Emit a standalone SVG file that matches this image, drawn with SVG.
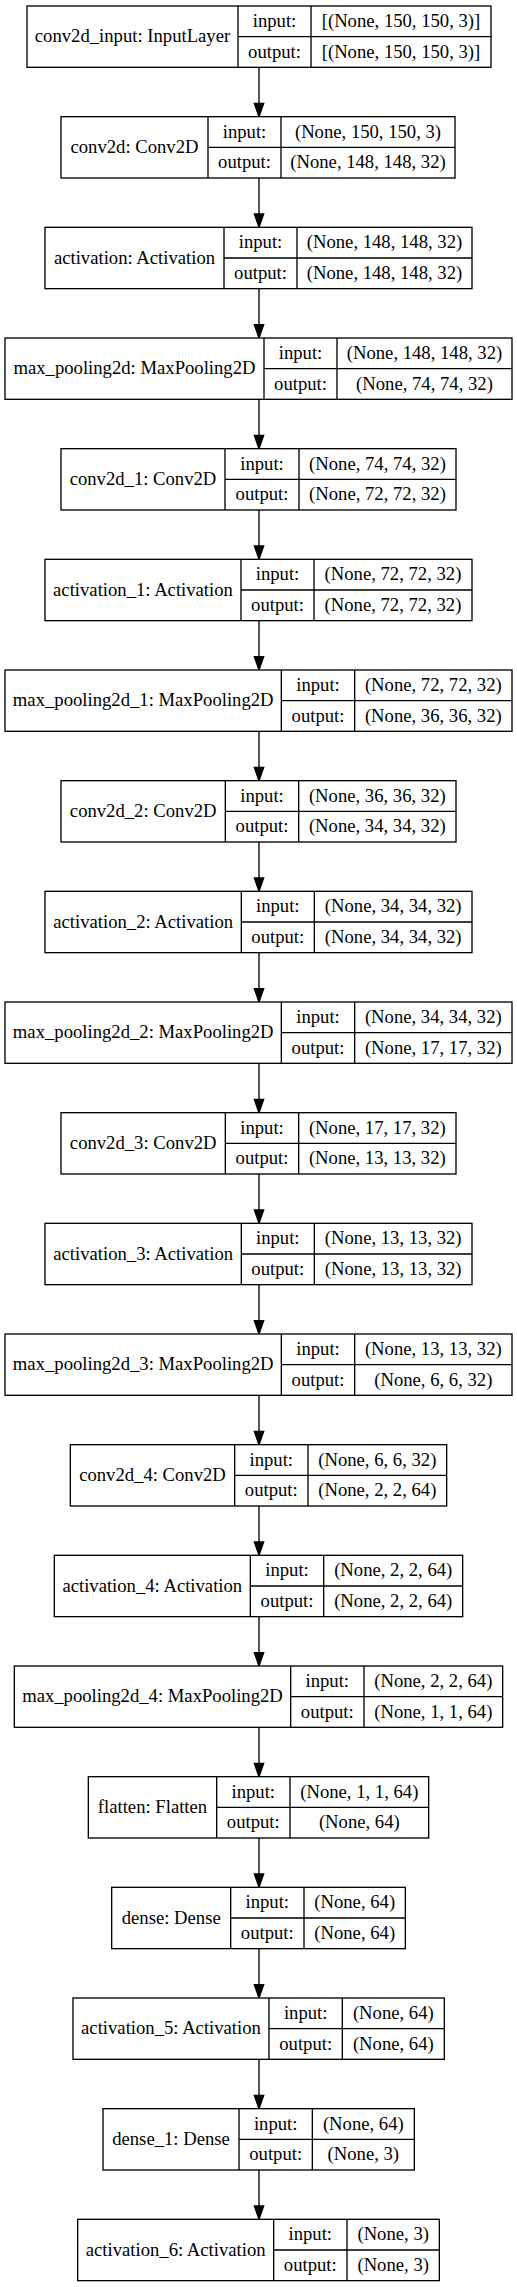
<svg xmlns="http://www.w3.org/2000/svg" width="517" height="2287" viewBox="0 0 517 2287">
<style>
  .box{fill:#ffffff;stroke:#000000;stroke-width:1.33}
  .ln{stroke:#000000;stroke-width:1.33;fill:none}
  text{font-family:"Liberation Serif","Times New Roman",serif;font-size:18.67px;fill:#000000;text-anchor:middle}
  .edge{stroke:#000000;stroke-width:1.33;fill:none}
  .head{fill:#000000;stroke:#000000;stroke-width:1.33}
</style>
<rect x="0" y="0" width="517" height="2287" fill="#ffffff"/>

<g id="connectors">
  <path class="edge" d="M259,67.33 V103.33"/><polygon class="head" points="259,116.67 254.33,103.33 263.67,103.33"/>
  <path class="edge" d="M259,178 V214"/><polygon class="head" points="259,227.33 254.33,214 263.67,214"/>
  <path class="edge" d="M259,288.67 V324.67"/><polygon class="head" points="259,338 254.33,324.67 263.67,324.67"/>
  <path class="edge" d="M259,399.33 V435.33"/><polygon class="head" points="259,448.67 254.33,435.33 263.67,435.33"/>
  <path class="edge" d="M259,510 V546"/><polygon class="head" points="259,559.33 254.33,546 263.67,546"/>
  <path class="edge" d="M259,620.67 V656.67"/><polygon class="head" points="259,670 254.33,656.67 263.67,656.67"/>
  <path class="edge" d="M259,731.33 V767.33"/><polygon class="head" points="259,780.67 254.33,767.33 263.67,767.33"/>
  <path class="edge" d="M259,842 V878"/><polygon class="head" points="259,891.33 254.33,878 263.67,878"/>
  <path class="edge" d="M259,952.67 V988.67"/><polygon class="head" points="259,1002 254.33,988.67 263.67,988.67"/>
  <path class="edge" d="M259,1063.33 V1099.33"/><polygon class="head" points="259,1112.67 254.33,1099.33 263.67,1099.33"/>
  <path class="edge" d="M259,1174 V1210"/><polygon class="head" points="259,1223.33 254.33,1210 263.67,1210"/>
  <path class="edge" d="M259,1284.67 V1320.67"/><polygon class="head" points="259,1334 254.33,1320.67 263.67,1320.67"/>
  <path class="edge" d="M259,1395.33 V1431.33"/><polygon class="head" points="259,1444.67 254.33,1431.33 263.67,1431.33"/>
  <path class="edge" d="M259,1506 V1542"/><polygon class="head" points="259,1555.33 254.33,1542 263.67,1542"/>
  <path class="edge" d="M259,1616.67 V1652.67"/><polygon class="head" points="259,1666 254.33,1652.67 263.67,1652.67"/>
  <path class="edge" d="M259,1727.33 V1763.33"/><polygon class="head" points="259,1776.67 254.33,1763.33 263.67,1763.33"/>
  <path class="edge" d="M259,1838 V1874"/><polygon class="head" points="259,1887.33 254.33,1874 263.67,1874"/>
  <path class="edge" d="M259,1948.67 V1984.67"/><polygon class="head" points="259,1998 254.33,1984.67 263.67,1984.67"/>
  <path class="edge" d="M259,2059.33 V2095.33"/><polygon class="head" points="259,2108.67 254.33,2095.33 263.67,2095.33"/>
  <path class="edge" d="M259,2170 V2206"/><polygon class="head" points="259,2219.33 254.33,2206 263.67,2206"/>
</g>

<g id="conv2d_input">
  <rect class="box" x="27" y="6" width="464" height="61.33"/>
  <path class="ln" d="M238,6 V67.33 M311,6 V67.33 M238,36.67 H491"/>
  <text x="132.5" y="42.2">conv2d_input: InputLayer</text>
  <text x="274.5" y="27">input:</text><text x="401" y="27">[(None, 150, 150, 3)]</text>
  <text x="274.5" y="57.6">output:</text><text x="401" y="57.6">[(None, 150, 150, 3)]</text>
</g>

<g id="conv2d">
  <rect class="box" x="61" y="116.67" width="394" height="61.33"/>
  <path class="ln" d="M208,116.67 V178 M281,116.67 V178 M208,147.33 H455"/>
  <text x="134.5" y="152.9">conv2d: Conv2D</text>
  <text x="244.5" y="137.7">input:</text><text x="368" y="137.7">(None, 150, 150, 3)</text>
  <text x="244.5" y="168.3">output:</text><text x="368" y="168.3">(None, 148, 148, 32)</text>
</g>

<g id="activation">
  <rect class="box" x="45" y="227.33" width="427" height="61.33"/>
  <path class="ln" d="M224,227.33 V288.67 M297,227.33 V288.67 M224,258 H472"/>
  <text x="134.5" y="263.5">activation: Activation</text>
  <text x="260.5" y="248.3">input:</text><text x="384.5" y="248.3">(None, 148, 148, 32)</text>
  <text x="260.5" y="279">output:</text><text x="384.5" y="279">(None, 148, 148, 32)</text>
</g>

<g id="max_pooling2d">
  <rect class="box" x="5" y="338" width="507" height="61.33"/>
  <path class="ln" d="M264,338 V399.33 M337,338 V399.33 M264,368.67 H512"/>
  <text x="134.5" y="374.2">max_pooling2d: MaxPooling2D</text>
  <text x="300.5" y="359">input:</text><text x="424.5" y="359">(None, 148, 148, 32)</text>
  <text x="300.5" y="389.7">output:</text><text x="424.5" y="389.7">(None, 74, 74, 32)</text>
</g>

<g id="conv2d_1">
  <rect class="box" x="61" y="448.67" width="395" height="61.33"/>
  <path class="ln" d="M225,448.67 V510 M299,448.67 V510 M225,479.33 H456"/>
  <text x="143" y="484.9">conv2d_1: Conv2D</text>
  <text x="262" y="469.7">input:</text><text x="377.5" y="469.7">(None, 74, 74, 32)</text>
  <text x="262" y="500.3">output:</text><text x="377.5" y="500.3">(None, 72, 72, 32)</text>
</g>

<g id="activation_1">
  <rect class="box" x="45" y="559.33" width="427" height="61.33"/>
  <path class="ln" d="M241,559.33 V620.67 M314,559.33 V620.67 M241,590 H472"/>
  <text x="143" y="595.5">activation_1: Activation</text>
  <text x="277.5" y="580.3">input:</text><text x="393" y="580.3">(None, 72, 72, 32)</text>
  <text x="277.5" y="611">output:</text><text x="393" y="611">(None, 72, 72, 32)</text>
</g>

<g id="max_pooling2d_1">
  <rect class="box" x="5" y="670" width="507" height="61.33"/>
  <path class="ln" d="M281.33,670 V731.33 M354.67,670 V731.33 M281.33,700.67 H512"/>
  <text x="143.2" y="706.2">max_pooling2d_1: MaxPooling2D</text>
  <text x="318" y="691">input:</text><text x="433.3" y="691">(None, 72, 72, 32)</text>
  <text x="318" y="721.7">output:</text><text x="433.3" y="721.7">(None, 36, 36, 32)</text>
</g>

<g id="conv2d_2">
  <rect class="box" x="61" y="780.67" width="395" height="61.33"/>
  <path class="ln" d="M225.33,780.67 V842 M298.67,780.67 V842 M225.33,811.33 H456"/>
  <text x="143.2" y="816.9">conv2d_2: Conv2D</text>
  <text x="262" y="801.7">input:</text><text x="377.3" y="801.7">(None, 36, 36, 32)</text>
  <text x="262" y="832.3">output:</text><text x="377.3" y="832.3">(None, 34, 34, 32)</text>
</g>

<g id="activation_2">
  <rect class="box" x="45" y="891.33" width="427" height="61.33"/>
  <path class="ln" d="M241.33,891.33 V952.67 M314.33,891.33 V952.67 M241.33,922 H472"/>
  <text x="143.2" y="927.5">activation_2: Activation</text>
  <text x="277.8" y="912.3">input:</text><text x="393.2" y="912.3">(None, 34, 34, 32)</text>
  <text x="277.8" y="943">output:</text><text x="393.2" y="943">(None, 34, 34, 32)</text>
</g>

<g id="max_pooling2d_2">
  <rect class="box" x="5" y="1002" width="507" height="61.33"/>
  <path class="ln" d="M281.33,1002 V1063.33 M354.67,1002 V1063.33 M281.33,1032.67 H512"/>
  <text x="143.2" y="1038.2">max_pooling2d_2: MaxPooling2D</text>
  <text x="318" y="1023">input:</text><text x="433.3" y="1023">(None, 34, 34, 32)</text>
  <text x="318" y="1053.7">output:</text><text x="433.3" y="1053.7">(None, 17, 17, 32)</text>
</g>

<g id="conv2d_3">
  <rect class="box" x="61" y="1112.67" width="395" height="61.33"/>
  <path class="ln" d="M225.33,1112.67 V1174 M298.67,1112.67 V1174 M225.33,1143.33 H456"/>
  <text x="143.2" y="1148.9">conv2d_3: Conv2D</text>
  <text x="262" y="1133.7">input:</text><text x="377.3" y="1133.7">(None, 17, 17, 32)</text>
  <text x="262" y="1164.3">output:</text><text x="377.3" y="1164.3">(None, 13, 13, 32)</text>
</g>

<g id="activation_3">
  <rect class="box" x="45" y="1223.33" width="427" height="61.33"/>
  <path class="ln" d="M241.33,1223.33 V1284.67 M314.33,1223.33 V1284.67 M241.33,1254 H472"/>
  <text x="143.2" y="1259.5">activation_3: Activation</text>
  <text x="277.8" y="1244.3">input:</text><text x="393.2" y="1244.3">(None, 13, 13, 32)</text>
  <text x="277.8" y="1275">output:</text><text x="393.2" y="1275">(None, 13, 13, 32)</text>
</g>

<g id="max_pooling2d_3">
  <rect class="box" x="5" y="1334" width="507" height="61.33"/>
  <path class="ln" d="M281.33,1334 V1395.33 M354.67,1334 V1395.33 M281.33,1364.67 H512"/>
  <text x="143.2" y="1370.2">max_pooling2d_3: MaxPooling2D</text>
  <text x="318" y="1355">input:</text><text x="433.3" y="1355">(None, 13, 13, 32)</text>
  <text x="318" y="1385.7">output:</text><text x="433.3" y="1385.7">(None, 6, 6, 32)</text>
</g>

<g id="conv2d_4">
  <rect class="box" x="70.33" y="1444.67" width="376.33" height="61.33"/>
  <path class="ln" d="M234.67,1444.67 V1506 M308,1444.67 V1506 M234.67,1475.33 H446.67"/>
  <text x="152.5" y="1480.9">conv2d_4: Conv2D</text>
  <text x="271.3" y="1465.7">input:</text><text x="377.3" y="1465.7">(None, 6, 6, 32)</text>
  <text x="271.3" y="1496.3">output:</text><text x="377.3" y="1496.3">(None, 2, 2, 64)</text>
</g>

<g id="activation_4">
  <rect class="box" x="54.33" y="1555.33" width="408.33" height="61.33"/>
  <path class="ln" d="M250.33,1555.33 V1616.67 M323.67,1555.33 V1616.67 M250.33,1586 H462.67"/>
  <text x="152.3" y="1591.5">activation_4: Activation</text>
  <text x="287" y="1576.3">input:</text><text x="393.2" y="1576.3">(None, 2, 2, 64)</text>
  <text x="287" y="1607">output:</text><text x="393.2" y="1607">(None, 2, 2, 64)</text>
</g>

<g id="max_pooling2d_4">
  <rect class="box" x="14.33" y="1666" width="488.33" height="61.33"/>
  <path class="ln" d="M290.67,1666 V1727.33 M364,1666 V1727.33 M290.67,1696.67 H502.67"/>
  <text x="152.5" y="1702.2">max_pooling2d_4: MaxPooling2D</text>
  <text x="327.3" y="1687">input:</text><text x="433.3" y="1687">(None, 2, 2, 64)</text>
  <text x="327.3" y="1717.7">output:</text><text x="433.3" y="1717.7">(None, 1, 1, 64)</text>
</g>

<g id="flatten">
  <rect class="box" x="88.33" y="1776.67" width="340.33" height="61.33"/>
  <path class="ln" d="M216.67,1776.67 V1838 M290,1776.67 V1838 M216.67,1807.33 H428.67"/>
  <text x="152.5" y="1812.9">flatten: Flatten</text>
  <text x="253.3" y="1797.7">input:</text><text x="359.3" y="1797.7">(None, 1, 1, 64)</text>
  <text x="253.3" y="1828.3">output:</text><text x="359.3" y="1828.3">(None, 64)</text>
</g>

<g id="dense">
  <rect class="box" x="111.67" y="1887.33" width="293.67" height="61.33"/>
  <path class="ln" d="M230.67,1887.33 V1948.67 M304,1887.33 V1948.67 M230.67,1918 H405.33"/>
  <text x="171.2" y="1923.5">dense: Dense</text>
  <text x="267.3" y="1908.3">input:</text><text x="354.7" y="1908.3">(None, 64)</text>
  <text x="267.3" y="1939">output:</text><text x="354.7" y="1939">(None, 64)</text>
</g>

<g id="activation_5">
  <rect class="box" x="73" y="1998" width="371.33" height="61.33"/>
  <path class="ln" d="M269,1998 V2059.33 M342.33,1998 V2059.33 M269,2028.67 H444.33"/>
  <text x="171" y="2034.2">activation_5: Activation</text>
  <text x="305.7" y="2019">input:</text><text x="393.3" y="2019">(None, 64)</text>
  <text x="305.7" y="2049.7">output:</text><text x="393.3" y="2049.7">(None, 64)</text>
</g>

<g id="dense_1">
  <rect class="box" x="103" y="2108.67" width="311.33" height="61.33"/>
  <path class="ln" d="M239,2108.67 V2170 M312.33,2108.67 V2170 M239,2139.33 H414.33"/>
  <text x="171" y="2144.9">dense_1: Dense</text>
  <text x="275.7" y="2129.7">input:</text><text x="363.3" y="2129.7">(None, 64)</text>
  <text x="275.7" y="2160.3">output:</text><text x="363.3" y="2160.3">(None, 3)</text>
</g>

<g id="activation_6">
  <rect class="box" x="77.67" y="2219.33" width="361.67" height="61.33"/>
  <path class="ln" d="M273.67,2219.33 V2280.67 M347,2219.33 V2280.67 M273.67,2250 H439.33"/>
  <text x="175.7" y="2255.5">activation_6: Activation</text>
  <text x="310.3" y="2240.3">input:</text><text x="393.2" y="2240.3">(None, 3)</text>
  <text x="310.3" y="2271">output:</text><text x="393.2" y="2271">(None, 3)</text>
</g>
</svg>
